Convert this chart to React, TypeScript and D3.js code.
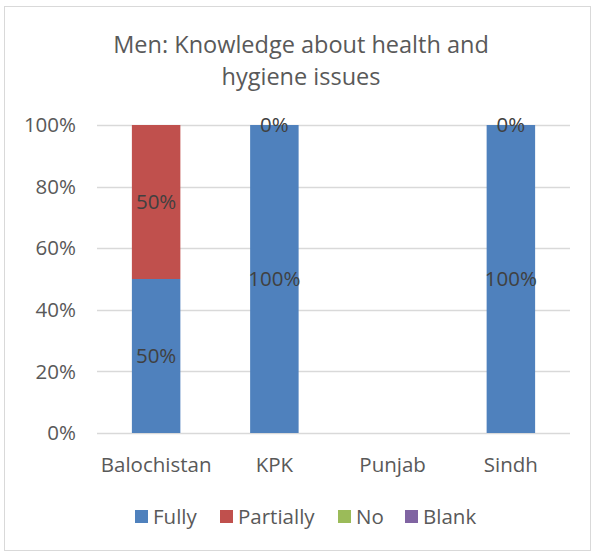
import React, { useEffect, useRef } from "react";
import * as d3 from "d3";

// categories and series (share of respondents, null = no data)
const regions = ["Balochistan", "KPK", "Punjab", "Sindh"];
const seriesNames = ["Fully", "Partially", "No", "Blank"];
const fully = [0.5, 1, null, 1];
const partially = [0.5, 0, null, 0];
const no: (number | null)[] = [null, null, null, null];
const blank: (number | null)[] = [null, null, null, null];
const yTicks = [0, 0.2, 0.4, 0.6, 0.8, 1];
const titleLines = ["Men: Knowledge about health and", "hygiene issues"];

const colors = ["#4f81bd", "#c0504d", "#9bbb59", "#8064a2"];
const font = "'Open Sans', 'Noto Sans', sans-serif";

const App: React.FC = () => {
  const ref = useRef<SVGSVGElement>(null);

  useEffect(() => {
    const width = 595,
      height = 555;
    const svg = d3.select(ref.current);
    svg.selectAll("*").remove();

    // chart frame
    svg
      .append("rect")
      .attr("x", 4.5)
      .attr("y", 6.5)
      .attr("width", 586)
      .attr("height", 544)
      .attr("fill", "#fff")
      .attr("stroke", "#d9d9d9");

    // title
    svg
      .selectAll(".title")
      .data(titleLines)
      .enter()
      .append("text")
      .attr("x", 301)
      .attr("y", (_, i) => 45 + i * 32)
      .attr("dy", "0.35em")
      .attr("text-anchor", "middle")
      .style("font-family", font)
      .style("font-size", "23.5px")
      .attr("fill", "#595959")
      .text((d) => d);

    const margin = { left: 97, right: 25, top: 125, bottom: 122 };

    const x = d3
      .scaleBand()
      .domain(regions)
      .range([margin.left, width - margin.right])
      .paddingInner(0.59)
      .paddingOuter(0.295);

    const y = d3
      .scaleLinear()
      .domain([0, 1])
      .range([height - margin.bottom, margin.top]);

    const labelSize = "20.5px";

    // gridlines
    svg
      .selectAll(".grid")
      .data(yTicks)
      .enter()
      .append("line")
      .attr("x1", margin.left)
      .attr("x2", width - margin.right)
      .attr("y1", (d) => Math.round(y(d)) + 0.5)
      .attr("y2", (d) => Math.round(y(d)) + 0.5)
      .attr("stroke", "#d9d9d9")
      .attr("stroke-width", 1.5);

    // y labels
    svg
      .selectAll(".ylab")
      .data(yTicks)
      .enter()
      .append("text")
      .attr("x", 76)
      .attr("y", (d) => y(d))
      .attr("dy", "0.35em")
      .attr("text-anchor", "end")
      .style("font-family", font)
      .style("font-size", labelSize)
      .attr("fill", "#595959")
      .text((d) => d3.format(".0%")(d));

    // stacked bars
    const series = [fully, partially, no, blank];
    regions.forEach((r, i) => {
      let base = 0;
      series.forEach((s, k) => {
        const v = s[i];
        if (v === null) return;
        const y0 = y(base),
          y1 = y(base + v);
        svg
          .append("rect")
          .attr("x", x(r)!)
          .attr("y", y1)
          .attr("width", x.bandwidth())
          .attr("height", y0 - y1)
          .attr("fill", colors[k]);
        base += v;
      });
    });

    // data labels
    regions.forEach((r, i) => {
      let base = 0;
      series.forEach((s) => {
        const v = s[i];
        if (v === null) return;
        svg
          .append("text")
          .attr("x", x(r)! + x.bandwidth() / 2)
          .attr("y", y(base + v / 2))
          .attr("dy", "0.35em")
          .attr("text-anchor", "middle")
          .style("font-family", font)
          .style("font-size", labelSize)
          .attr("fill", "#404040")
          .text(d3.format(".0%")(v));
        base += v;
      });
    });

    // x labels
    svg
      .selectAll(".xlab")
      .data(regions)
      .enter()
      .append("text")
      .attr("x", (d) => x(d)! + x.bandwidth() / 2)
      .attr("y", 465)
      .attr("dy", "0.35em")
      .attr("text-anchor", "middle")
      .style("font-family", font)
      .style("font-size", labelSize)
      .attr("fill", "#595959")
      .text((d) => d);

    // legend
    const legendX = [135, 220, 338, 405];
    const lg = svg
      .selectAll(".legend")
      .data(seriesNames)
      .enter()
      .append("g")
      .attr("transform", (_, i) => `translate(${legendX[i]},517)`);
    lg.append("rect")
      .attr("x", 0)
      .attr("y", -7)
      .attr("width", 13)
      .attr("height", 13)
      .attr("fill", (_, i) => colors[i]);
    lg.append("text")
      .attr("x", 18)
      .attr("y", 0)
      .attr("dy", "0.35em")
      .style("font-family", font)
      .style("font-size", labelSize)
      .attr("fill", "#595959")
      .text((d) => d);
  }, []);

  return (
    <svg
      ref={ref}
      width={595}
      height={555}
      style={{ position: "absolute", left: 0, top: 0 }}
    />
  );
};

export default App;
